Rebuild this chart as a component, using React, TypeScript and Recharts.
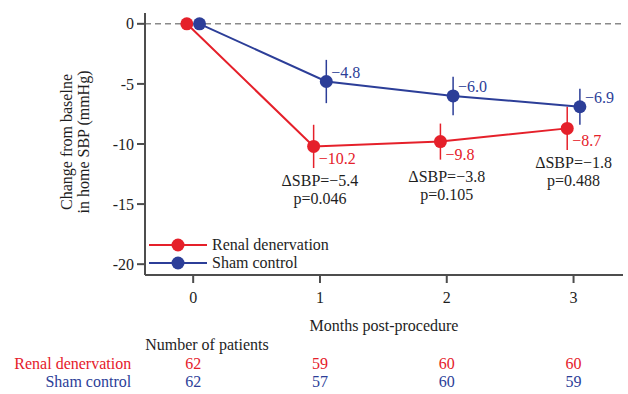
import {
  LineChart,
  Line,
  XAxis,
  YAxis,
  ReferenceLine,
  ErrorBar,
  LabelList,
  Legend,
} from "recharts";

const months = [0, 1, 2, 3];
const renalChange = [0, -10.2, -9.8, -8.7];
const renalErr = [0, 1.8, 1.5, 1.8];
const shamChange = [0, -4.8, -6.0, -6.9];
const shamErr = [0, 1.8, 1.6, 1.5];
const deltaSBP = [null, -5.4, -3.8, -1.8];
const pValues = [null, "0.046", "0.105", "0.488"];
const renalN = [62, 59, 60, 60];
const shamN = [62, 57, 60, 59];
const yTicks = [0, -5, -10, -15, -20];

const RED = "#e5202a";
const BLUE = "#2c3e98";
const AXIS = "#4d4d4d";
const INK = "#1e1e1e";
const FONT = "'Liberation Serif', 'Times New Roman', serif";
const DODGE = 0.05; // side-by-side offset so the groups don't overlap

const renalData = months.map((m, i) => ({ x: m - DODGE, y: renalChange[i], err: renalErr[i] }));
const shamData = months.map((m, i) => ({ x: m + DODGE, y: shamChange[i], err: shamErr[i] }));

const fmt = (v: number) => (v < 0 ? "\u2212" + Math.abs(v).toFixed(1) : v.toFixed(1));

function RedLabel(props: any) {
  const { x, y, value, index } = props;
  if (!index) return null;
  const cx = x + DODGE * 126.7;
  return (
    <g fontFamily={FONT} fontSize={16}>
      <text x={x + 5} y={y + 18} fill={RED}>{fmt(value)}</text>
      <text x={cx} y={y + 40} fill={INK} textAnchor="middle">
        {"\u0394SBP=" + fmt(deltaSBP[index] as number)}
      </text>
      <text x={cx} y={y + 58} fill={INK} textAnchor="middle">
        {"p=" + pValues[index]}
      </text>
    </g>
  );
}

function BlueLabel(props: any) {
  const { x, y, value, index } = props;
  if (!index) return null;
  return (
    <text x={x + 5} y={y - 4} fill={BLUE} fontFamily={FONT} fontSize={16}>
      {fmt(value)}
    </text>
  );
}

function MonthTick(props: any) {
  const { x, y, payload } = props;
  const i = months.indexOf(payload.value);
  return (
    <g fontFamily={FONT} fontSize={16}>
      <text x={x} y={y + 18} fill={INK} textAnchor="middle">{payload.value}</text>
      {i === 0 && (
        <>
          <text x={x - 48} y={y + 65} fill={INK}>Number of patients</text>
          <text x={x - 62} y={y + 84} fill={RED} textAnchor="end">Renal denervation</text>
          <text x={x - 62} y={y + 102} fill={BLUE} textAnchor="end">Sham control</text>
        </>
      )}
      <text x={x} y={y + 84} fill={RED} textAnchor="middle">{renalN[i]}</text>
      <text x={x} y={y + 102} fill={BLUE} textAnchor="middle">{shamN[i]}</text>
    </g>
  );
}

function XLabel(props: any) {
  const { x, y, width } = props.viewBox;
  return (
    <text x={x + width / 2} y={y + 56} fill={INK} fontFamily={FONT} fontSize={16} textAnchor="middle">
      Months post-procedure
    </text>
  );
}

function YLabel(props: any) {
  const { y, height } = props.viewBox;
  const cy = y + height / 2 - 2;
  return (
    <g fontFamily={FONT} fontSize={16} fill={INK}>
      <text x={66} y={cy} textAnchor="middle" dominantBaseline="central" transform={`rotate(-90 66 ${cy})`}>
        Change from baselne
      </text>
      <text x={83} y={cy} textAnchor="middle" dominantBaseline="central" transform={`rotate(-90 83 ${cy})`}>
        in home SBP (mmHg)
      </text>
    </g>
  );
}

function LegendBox(props: any) {
  const { payload } = props;
  return (
    <div style={{ fontFamily: FONT, fontSize: 16, color: INK }}>
      {(payload || []).map((p: any) => (
        <div key={p.value} style={{ display: "flex", alignItems: "center", height: 18 }}>
          <svg width={62} height={18}>
            <line x1={1} y1={9} x2={59} y2={9} stroke={p.color} strokeWidth={2} />
            <circle cx={30} cy={9} r={6.5} fill={p.color} />
          </svg>
          <span style={{ marginLeft: 2 }}>{p.value}</span>
        </div>
      ))}
    </div>
  );
}

export default function App() {
  return (
    <div style={{ position: "absolute", left: 0, top: 0, width: 628, height: 394, background: "#fff" }}>
      <LineChart width={628} height={394} margin={{ top: 13, right: 5, left: 5, bottom: 0 }}>
        <XAxis
          dataKey="x"
          type="number"
          domain={[-0.38, 3.39]}
          ticks={months}
          allowDataOverflow
          height={119}
          tickSize={8}
          axisLine={{ stroke: AXIS, strokeWidth: 2 }}
          tickLine={{ stroke: AXIS, strokeWidth: 2 }}
          tick={<MonthTick />}
          label={(p: any) => <XLabel {...p} />}
        />
        <YAxis
          type="number"
          domain={[-20.9, 0.9]}
          ticks={yTicks}
          allowDataOverflow
          width={140}
          tickSize={8}
          tickMargin={3}
          axisLine={{ stroke: AXIS, strokeWidth: 2 }}
          tickLine={{ stroke: AXIS, strokeWidth: 2 }}
          tick={{ fill: INK, fontSize: 16, fontFamily: FONT }}
          label={(p: any) => <YLabel {...p} />}
        />
        <ReferenceLine y={0} stroke="#8a8a8a" strokeWidth={1.5} strokeDasharray="6 4" />
        <Legend
          layout="horizontal"
          verticalAlign="middle"
          align="center"
          content={<LegendBox />}
          wrapperStyle={{ left: 148, top: 236, width: 200 }}
        />
        <Line
          data={renalData}
          dataKey="y"
          name="Renal denervation"
          stroke={RED}
          strokeWidth={2}
          dot={{ r: 6.5, fill: RED, stroke: RED, strokeWidth: 0 }}
          activeDot={false}
          isAnimationActive={false}
        >
          <ErrorBar dataKey="err" direction="y" width={0} stroke={RED} strokeWidth={1.5} isAnimationActive={false} />
          <LabelList dataKey="y" content={<RedLabel />} />
        </Line>
        <Line
          data={shamData}
          dataKey="y"
          name="Sham control"
          stroke={BLUE}
          strokeWidth={2}
          dot={{ r: 6.5, fill: BLUE, stroke: BLUE, strokeWidth: 0 }}
          activeDot={false}
          isAnimationActive={false}
        >
          <ErrorBar dataKey="err" direction="y" width={0} stroke={BLUE} strokeWidth={1.5} isAnimationActive={false} />
          <LabelList dataKey="y" content={<BlueLabel />} />
        </Line>
      </LineChart>
    </div>
  );
}
